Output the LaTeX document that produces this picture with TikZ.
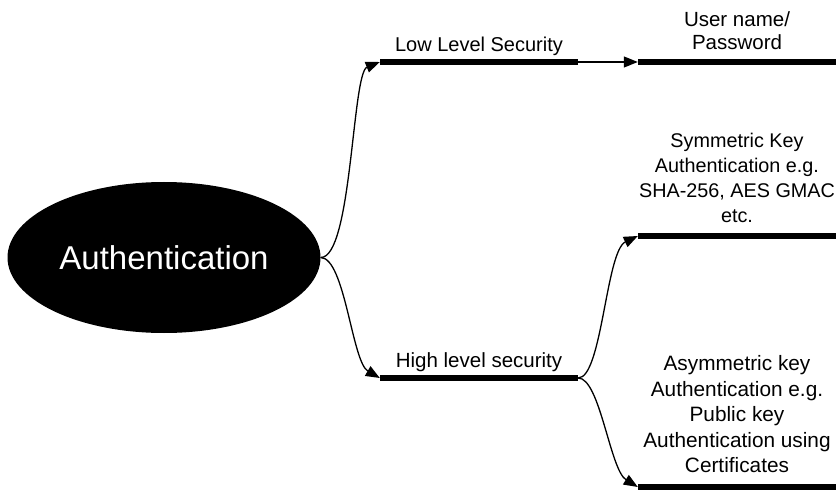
\documentclass[tikz,border=0pt]{standalone}
\usepackage{fontspec}
\setmainfont{Liberation Sans}
\usetikzlibrary{arrows.meta,shapes.geometric}
\begin{document}
\begin{tikzpicture}[x=1pt,y=1pt,
  bar/.style={rectangle,fill=black,inner sep=0pt,minimum width=198pt,minimum height=5.5pt},
  lbl/.style={anchor=south,inner sep=0pt,text depth=0pt,align=center},
  link/.style={line width=1.3pt,-{Triangle[length=14pt,width=11pt]}}]
\useasboundingbox (0,0) rectangle (836,491);

% central topic
\node[ellipse,fill=black,minimum width=313pt,minimum height=151pt,inner sep=0pt,
      text=white,font=\fontsize{33}{36}\selectfont] (auth) at (164,233.5) {Authentication};

% branch bars
\node[bar] (low)  at (479,429) {};
\node[bar] (user) at (737,429) {};
\node[bar] (high) at (479,113) {};
\node[bar] (sym)  at (737,255) {};
\node[bar] (asym) at (737,4)   {};

% labels sitting on the bars
\node[lbl,font=\fontsize{20}{24}\selectfont] (lowtxt) at ([yshift=10pt]low.center) {Low Level Security};
\node[lbl,font=\fontsize{20.5}{23}\selectfont] (usertxt) at ([yshift=12pt]user.center) {User name/\\Password};
\node[lbl,font=\fontsize{20.5}{24}\selectfont] (hightxt) at ([yshift=10pt]high.center) {High level security};
\node[lbl,font=\fontsize{19.8}{25}\selectfont] (symtxt) at ([yshift=13pt]sym.center)
  {Symmetric Key\\Authentication e.g.\\SHA-256, AES GMAC\\etc.};
\node[lbl,font=\fontsize{20.8}{25.5}\selectfont] (asymtxt) at ([yshift=14pt]asym.center)
  {Asymmetric key\\Authentication e.g.\\Public key\\Authentication using\\Certificates};

% connectors
\draw[link] (auth.east) .. controls (352,233) and (352,418) .. (low.west);
\draw[link] (auth.east) .. controls (345,233) and (352,129) .. (high.west);
\draw[link] (low.east) -- (user.west);
\draw[link] (high.east) .. controls (602,113) and (606,240) .. (sym.west);
\draw[link] (high.east) .. controls (600,113) and (610,21) .. (asym.west);
\end{tikzpicture}
\end{document}
